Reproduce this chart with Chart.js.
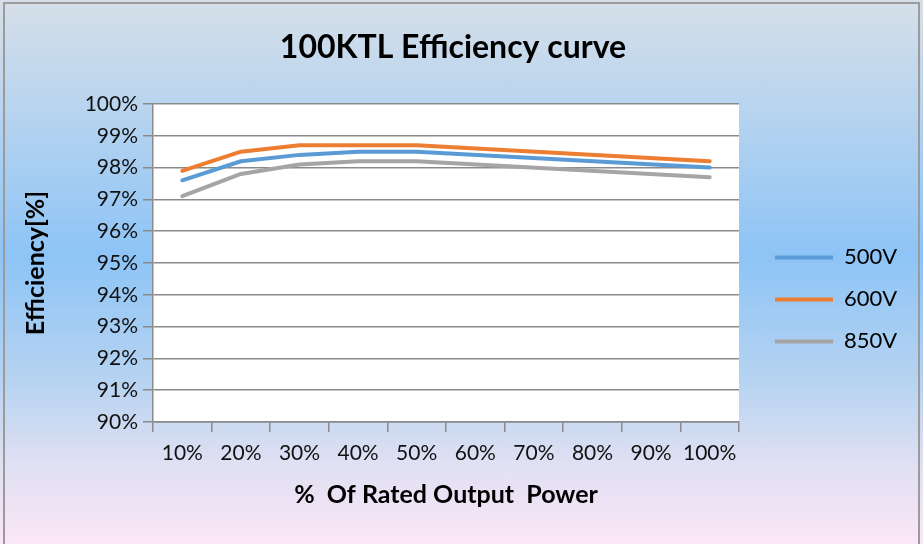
<!DOCTYPE html>
<html>
<head>
<meta charset="utf-8">
<title>100KTL Efficiency curve</title>
<script src="https://cdn.jsdelivr.net/npm/chart.js@4.4.1/dist/chart.umd.min.js"></script>
<style>
	html, body { margin: 0; padding: 0; }
	body {
		width: 923px; height: 544px; overflow: hidden; position: relative;
		background: linear-gradient(to bottom, #d6dfe9 0%, #b8d4ef 20%, #8dc4f6 47%, #b6d3f1 70%, #dfe0f3 85%, #fbe6f7 100%);
	}
	#frame {
		position: absolute; left: 3px; top: 2px; width: 917px; height: 560px;
		border: 2px solid #9b9b9b; box-sizing: border-box; pointer-events: none;
	}
	#wrap { position: absolute; left: 0; top: 0; width: 923px; height: 544px; }
</style>
</head>
<body>
<div id="wrap"><canvas id="effChart" width="923" height="544"></canvas></div>
<div id="frame"></div>
<script>
// load points, % of rated output
const powerLabels = ['10%', '20%', '30%', '40%', '50%', '60%', '70%', '80%', '90%', '100%'];

// efficiency in %, measured at 10..50% and 100% load
const eff500 = [97.6, 98.2, 98.4, 98.5, 98.5, null, null, null, null, 98.0];
const eff600 = [97.9, 98.5, 98.7, 98.7, 98.7, null, null, null, null, 98.2];
const eff850 = [97.1, 97.8, 98.1, 98.2, 98.2, null, null, null, null, 97.7];

const yMin = 90;
const yMax = 100;

const gridGray = '#8a8a8a';

Chart.defaults.font.family = 'Lato';
Chart.defaults.color = '#111';

// white plot area on top of the page gradient
const plotBackground = {
	id: 'plotBackground',
	beforeDraw(chart) {
		const { ctx, chartArea } = chart;
		ctx.save();
		ctx.fillStyle = '#ffffff';
		ctx.fillRect(chartArea.left, chartArea.top, chartArea.right - chartArea.left, chartArea.bottom - chartArea.top);
		ctx.restore();
	}
};

function series(label, data, color) {
	return {
		label: label,
		data: data,
		borderColor: color,
		backgroundColor: color,
		borderWidth: 4,
		pointRadius: 0,
		tension: 0,
		spanGaps: true,
		fill: false,
		borderCapStyle: 'round',
		borderJoinStyle: 'round'
	};
};

function build() {
	new Chart(document.getElementById('effChart'), {
		type: 'line',
		data: {
			labels: powerLabels,
			datasets: [
				series('500V', eff500, '#5b9bd5'),
				series('600V', eff600, '#ed7d31'),
				series('850V', eff850, '#a5a5a5')
			]
		},
		options: {
			responsive: false,
			animation: false,
			layout: { padding: { top: 0, left: 0, right: 17, bottom: 0 } },
			plugins: {
				tooltip: { enabled: false },
				title: {
					display: true,
					text: '100KTL Efficiency curve',
					color: '#000',
					font: { size: 32, weight: 'bold' },
					padding: { top: 28, bottom: 37.6 }
				},
				legend: {
					position: 'right',
					fullSize: false,
					align: 'start',
					title: { display: true, text: '', font: { size: 12 }, padding: { top: 108, bottom: 0 } },
					labels: {
						color: '#000',
						font: { size: 22 },
						boxWidth: 58,
						boxHeight: 4,
						padding: 20,
						generateLabels: chart => Chart.defaults.plugins.legend.labels.generateLabels(chart)
							.map(item => ({ ...item, lineWidth: 0 }))
					}
				}
			},
			scales: {
				x: {
					offset: true,
					grid: { offset: true, drawOnChartArea: false, drawTicks: true, tickLength: 10, color: gridGray, lineWidth: 1.5 },
					border: { display: true, color: gridGray, width: 1.5 },
					ticks: { font: { size: 21 }, color: '#111', padding: 9, maxRotation: 0 },
					title: {
						display: true,
						text: '%  Of Rated Output  Power',
						color: '#000',
						font: { size: 25, weight: 'bold' },
						padding: { top: 0, bottom: 34 }
					},
					afterFit: scale => { scale.height = 122; }
				},
				y: {
					min: yMin,
					max: yMax,
					ticks: {
						stepSize: 1,
						font: { size: 21 },
						color: '#111',
						padding: 5,
						callback: v => v + '%'
					},
					grid: { color: gridGray, lineWidth: 1.5, tickLength: 10 },
					border: { display: true, color: gridGray, width: 1.5 },
					title: {
						display: true,
						text: 'Efficiency[%]',
						color: '#000',
						font: { size: 25, weight: 'bold' },
						padding: { top: 21, bottom: 0 }
					},
					afterFit: scale => { scale.width = 153; }
				},
				// empty strip between the plot and the legend
				gap: {
					type: 'linear',
					position: 'right',
					display: true,
					grid: { display: false },
					border: { display: false },
					ticks: { display: false },
					afterFit: scale => { scale.width = 16; }
				}
			}
		},
		plugins: [plotBackground]
	});
};

document.fonts.load('bold 32px Lato').then(build, build);
</script>
</body>
</html>
